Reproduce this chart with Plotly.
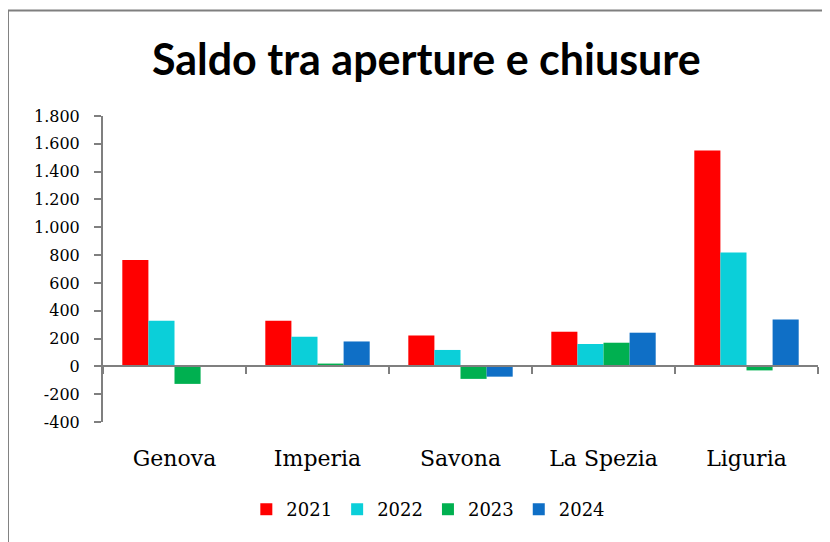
import plotly.graph_objects as go

categories = ["Genova", "Imperia", "Savona", "La Spezia", "Liguria"]
years = ["2021", "2022", "2023", "2024"]
v2021 = [765, 328, 222, 249, 1552]
v2022 = [328, 213, 118, 161, 818]
v2023 = [-126, 20, -90, 170, -29]
v2024 = [0, 179, -74, 242, 337]
series = [v2021, v2022, v2023, v2024]
colors = ["#FF0000", "#0BCFD9", "#00B050", "#0F6FC6"]
y_ticks = [-400, -200, 0, 200, 400, 600, 800, 1000, 1200, 1400, 1600, 1800]
y_labels = ["-400", "-200", "0", "200", "400", "600", "800", "1.000", "1.200", "1.400", "1.600", "1.800"]

serif = "DejaVu Serif"
fig = go.Figure()
for name, vals, col in zip(years, series, colors):
    fig.add_trace(go.Bar(x=categories, y=vals, name=name, marker=dict(color=col, line=dict(width=0))))

# invisible trace for the crossing category axis
fig.add_trace(go.Scatter(x=[-0.5, 4.5], y=[0, 0], xaxis="x2", mode="markers",
                         marker=dict(opacity=0), showlegend=False, hoverinfo="skip"))

ymin, ymax = -400, 1800
zero_pos = (0 - ymin) / (ymax - ymin)

fig.update_layout(
    width=830, height=542,
    margin=dict(l=95, r=20, t=108, b=128),
    paper_bgcolor="white", plot_bgcolor="white",
    barmode="group", bargap=0.27, bargroupgap=0,
    title=dict(text="<b>Saldo tra aperture e chiusure</b>", x=0.504, xanchor="center",
               y=0.904, yanchor="middle",
               font=dict(family="Lato", size=43, color="black")),
    xaxis=dict(type="category", categoryarray=categories, showline=False, ticks="",
               tickfont=dict(family=serif, size=22, color="black"), ticklabelstandoff=21,
               showgrid=False, zeroline=False),
    xaxis2=dict(overlaying="x", anchor="free", position=zero_pos, range=[-0.5, 4.5],
                tickvals=[-0.5, 0.5, 1.5, 2.5, 3.5, 4.5], showticklabels=False,
                ticks="outside", ticklen=7, tickwidth=2, tickcolor="#7F7F7F",
                showline=True, linecolor="#7F7F7F", linewidth=2, showgrid=False, zeroline=False),
    yaxis=dict(range=[ymin, ymax], tickvals=y_ticks, ticktext=y_labels,
               ticks="outside", ticklen=7, tickwidth=2, tickcolor="#7F7F7F",
               showline=True, linecolor="#7F7F7F", linewidth=2, showgrid=False, zeroline=False,
               tickfont=dict(family=serif, size=16, color="black"), ticklabelstandoff=11),
    legend=dict(orientation="h", x=0.455, xanchor="center", y=-0.286, yanchor="middle",
                font=dict(family=serif, size=18, color="black"), itemwidth=30,
                traceorder="normal"),
    showlegend=True,
    shapes=[dict(type="line", xref="paper", yref="paper", x0=-0.1329, x1=-0.1329, y0=1.3448, y1=-0.45,
                 line=dict(color="#7F7F7F", width=2)),
            dict(type="line", xref="paper", yref="paper", x0=-0.1329, x1=1.05, y0=1.3448, y1=1.3448,
                 line=dict(color="#7F7F7F", width=2))],
)

fig.write_html("out.html")
